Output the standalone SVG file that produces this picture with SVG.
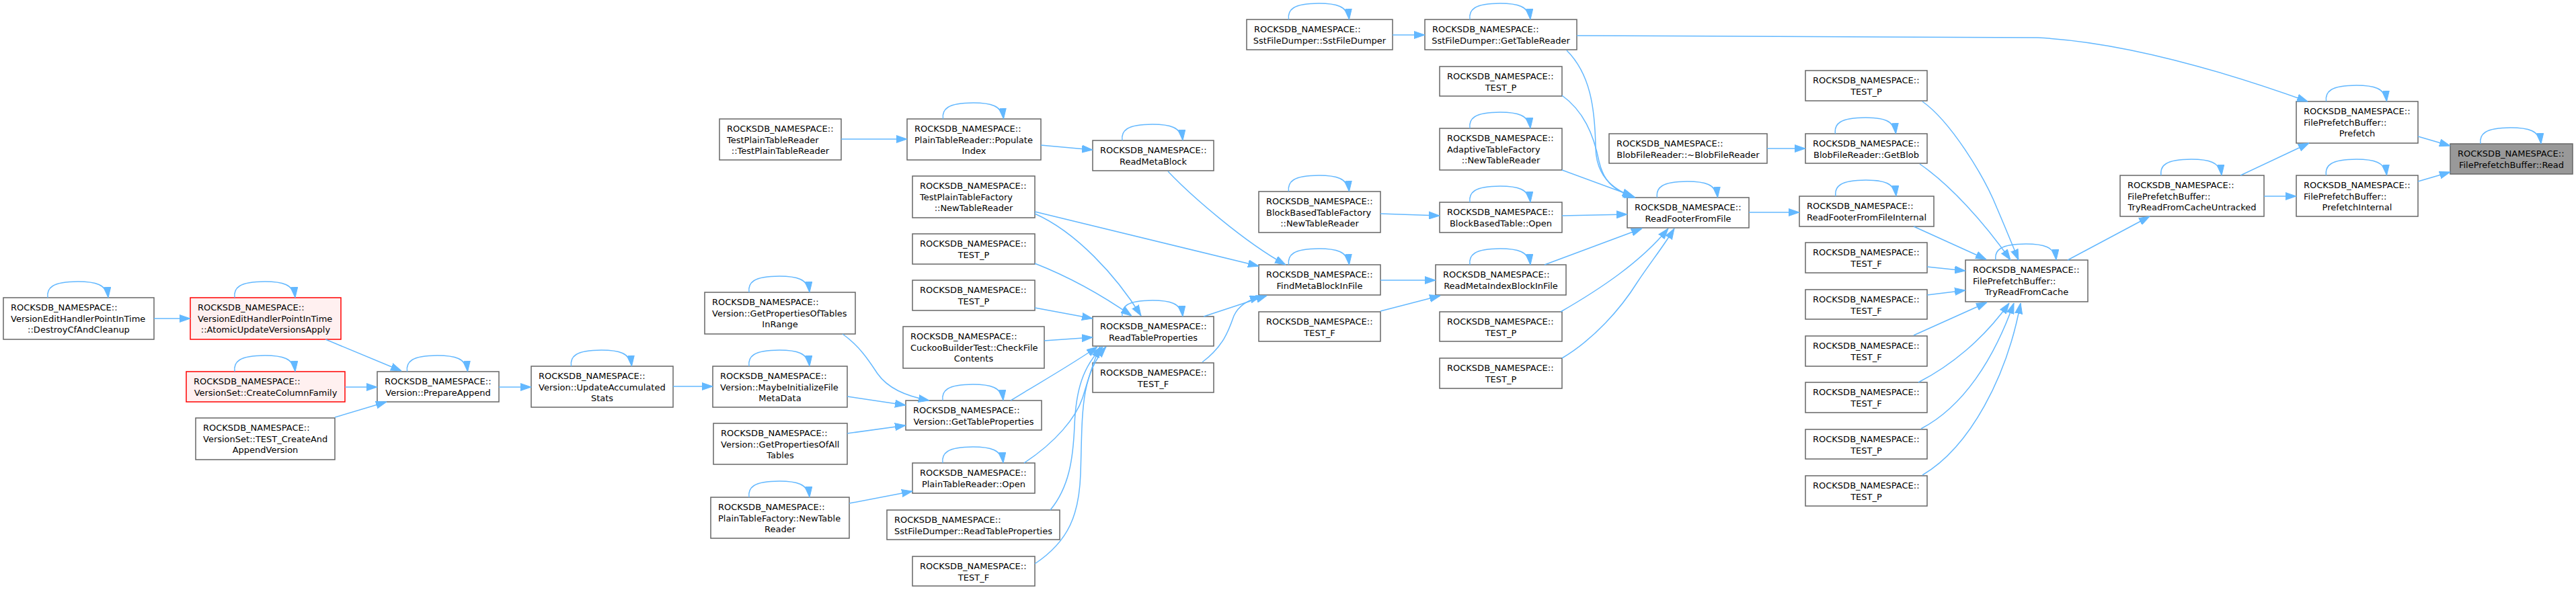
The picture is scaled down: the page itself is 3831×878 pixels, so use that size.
<svg xmlns="http://www.w3.org/2000/svg" width="3831" height="878" viewBox="0 0 3831 878">
<style>
.n rect{fill:#fff;stroke:#666;stroke-width:1.5}
.r rect{fill:#fff0f0;stroke:#f00}
.h rect{fill:#999}
text{font-family:'DejaVu Sans','Liberation Sans',sans-serif;font-size:13px;fill:#000}
text.c{text-anchor:middle}
#edges path{fill:none;stroke:#63b8ff;stroke-width:1.5;marker-end:url(#a)}
</style>
<defs>
<marker id="a" markerUnits="userSpaceOnUse" markerWidth="16" markerHeight="12" refX="16" refY="6" orient="auto" viewBox="0 0 16 12"><path d="M0,0.5 L16,6 L0,11.5 Z" fill="#63b8ff" stroke="#63b8ff" stroke-width="1"/></marker>
</defs>
<rect width="3831" height="878" fill="#fff"/>
<g id="nodes">
<g id="n_destroy" class="n"><rect x="5" y="443" width="224" height="62"/><text x="16" y="462">ROCKSDB_NAMESPACE::</text><text x="16" y="478.7">VersionEditHandlerPointInTime</text><text class="c" x="117" y="495.4">::DestroyCfAndCleanup</text></g>
<g id="n_atomic" class="n r"><rect x="283" y="443" width="224" height="62"/><text x="294" y="462">ROCKSDB_NAMESPACE::</text><text x="294" y="478.7">VersionEditHandlerPointInTime</text><text class="c" x="395" y="495.4">::AtomicUpdateVersionsApply</text></g>
<g id="n_createcf" class="n r"><rect x="277" y="553" width="236" height="45"/><text x="288" y="572">ROCKSDB_NAMESPACE::</text><text class="c" x="395" y="588.7">VersionSet::CreateColumnFamily</text></g>
<g id="n_testcreate" class="n"><rect x="291" y="622" width="207" height="62"/><text x="302" y="641">ROCKSDB_NAMESPACE::</text><text x="302" y="657.7">VersionSet::TEST_CreateAnd</text><text class="c" x="394.5" y="674.4">AppendVersion</text></g>
<g id="n_prepare" class="n"><rect x="561" y="553" width="181" height="45"/><text x="572" y="572">ROCKSDB_NAMESPACE::</text><text class="c" x="651.5" y="588.7">Version::PrepareAppend</text></g>
<g id="n_updacc" class="n"><rect x="790" y="545" width="211" height="61"/><text x="801" y="564">ROCKSDB_NAMESPACE::</text><text x="801" y="580.7">Version::UpdateAccumulated</text><text class="c" x="895.5" y="597.4">Stats</text></g>
<g id="n_gptir" class="n"><rect x="1048" y="435" width="224" height="62"/><text x="1059" y="454">ROCKSDB_NAMESPACE::</text><text x="1059" y="470.7">Version::GetPropertiesOfTables</text><text class="c" x="1160" y="487.4">InRange</text></g>
<g id="n_maybe" class="n"><rect x="1060" y="545" width="200" height="61"/><text x="1071" y="564">ROCKSDB_NAMESPACE::</text><text x="1071" y="580.7">Version::MaybeInitializeFile</text><text class="c" x="1160" y="597.4">MetaData</text></g>
<g id="n_gpoat" class="n"><rect x="1061" y="630" width="199" height="61"/><text x="1072" y="649">ROCKSDB_NAMESPACE::</text><text x="1072" y="665.7">Version::GetPropertiesOfAll</text><text class="c" x="1160.5" y="682.4">Tables</text></g>
<g id="n_ptfntr" class="n"><rect x="1057" y="740" width="206" height="61"/><text x="1068" y="759">ROCKSDB_NAMESPACE::</text><text x="1068" y="775.7">PlainTableFactory::NewTable</text><text class="c" x="1160" y="792.4">Reader</text></g>
<g id="n_tptr" class="n"><rect x="1070" y="177" width="181" height="61"/><text x="1081" y="196">ROCKSDB_NAMESPACE::</text><text x="1081" y="212.7">TestPlainTableReader</text><text class="c" x="1160.5" y="229.4">::TestPlainTableReader</text></g>
<g id="n_popidx" class="n"><rect x="1349" y="177" width="199" height="61"/><text x="1360" y="196">ROCKSDB_NAMESPACE::</text><text x="1360" y="212.7">PlainTableReader::Populate</text><text class="c" x="1448.5" y="229.4">Index</text></g>
<g id="n_tptf" class="n"><rect x="1357" y="262" width="182" height="62"/><text x="1368" y="281">ROCKSDB_NAMESPACE::</text><text x="1368" y="297.7">TestPlainTableFactory</text><text class="c" x="1448" y="314.4">::NewTableReader</text></g>
<g id="n_testp1" class="n"><rect x="1357" y="348" width="182" height="45"/><text x="1368" y="367">ROCKSDB_NAMESPACE::</text><text class="c" x="1448" y="383.7">TEST_P</text></g>
<g id="n_testp2" class="n"><rect x="1357" y="417" width="182" height="45"/><text x="1368" y="436">ROCKSDB_NAMESPACE::</text><text class="c" x="1448" y="452.7">TEST_P</text></g>
<g id="n_cuckoo" class="n"><rect x="1343" y="486" width="210" height="62"/><text x="1354" y="505">ROCKSDB_NAMESPACE::</text><text x="1354" y="521.7">CuckooBuilderTest::CheckFile</text><text class="c" x="1448" y="538.4">Contents</text></g>
<g id="n_vgtp" class="n"><rect x="1347" y="596" width="202" height="44"/><text x="1358" y="615">ROCKSDB_NAMESPACE::</text><text class="c" x="1448" y="631.7">Version::GetTableProperties</text></g>
<g id="n_ptropen" class="n"><rect x="1357" y="689" width="182" height="45"/><text x="1368" y="708">ROCKSDB_NAMESPACE::</text><text class="c" x="1448" y="724.7">PlainTableReader::Open</text></g>
<g id="n_sfdrtp" class="n"><rect x="1319" y="759" width="257" height="44"/><text x="1330" y="778">ROCKSDB_NAMESPACE::</text><text class="c" x="1447.5" y="794.7">SstFileDumper::ReadTableProperties</text></g>
<g id="n_testf1" class="n"><rect x="1357" y="828" width="182" height="44"/><text x="1368" y="847">ROCKSDB_NAMESPACE::</text><text class="c" x="1448" y="863.7">TEST_F</text></g>
<g id="n_rmb" class="n"><rect x="1625" y="209" width="180" height="45"/><text x="1636" y="228">ROCKSDB_NAMESPACE::</text><text class="c" x="1715" y="244.7">ReadMetaBlock</text></g>
<g id="n_rtp" class="n"><rect x="1625" y="471" width="180" height="44"/><text x="1636" y="490">ROCKSDB_NAMESPACE::</text><text class="c" x="1715" y="506.7">ReadTableProperties</text></g>
<g id="n_testf2" class="n"><rect x="1625" y="540" width="180" height="44"/><text x="1636" y="559">ROCKSDB_NAMESPACE::</text><text class="c" x="1715" y="575.7">TEST_F</text></g>
<g id="n_sfdsfd" class="n"><rect x="1854" y="29" width="217" height="45"/><text x="1865" y="48">ROCKSDB_NAMESPACE::</text><text class="c" x="1962.5" y="64.7">SstFileDumper::SstFileDumper</text></g>
<g id="n_bbtf" class="n"><rect x="1872" y="285" width="181" height="61"/><text x="1883" y="304">ROCKSDB_NAMESPACE::</text><text x="1883" y="320.7">BlockBasedTableFactory</text><text class="c" x="1962.5" y="337.4">::NewTableReader</text></g>
<g id="n_fmbif" class="n"><rect x="1872" y="394" width="181" height="45"/><text x="1883" y="413">ROCKSDB_NAMESPACE::</text><text class="c" x="1962.5" y="429.7">FindMetaBlockInFile</text></g>
<g id="n_testf3" class="n"><rect x="1872" y="464" width="181" height="44"/><text x="1883" y="483">ROCKSDB_NAMESPACE::</text><text class="c" x="1962.5" y="499.7">TEST_F</text></g>
<g id="n_gtr" class="n"><rect x="2119" y="29" width="226" height="45"/><text x="2130" y="48">ROCKSDB_NAMESPACE::</text><text class="c" x="2232" y="64.7">SstFileDumper::GetTableReader</text></g>
<g id="n_testp3" class="n"><rect x="2141" y="99" width="182" height="44"/><text x="2152" y="118">ROCKSDB_NAMESPACE::</text><text class="c" x="2232" y="134.7">TEST_P</text></g>
<g id="n_atf" class="n"><rect x="2141" y="191" width="182" height="62"/><text x="2152" y="210">ROCKSDB_NAMESPACE::</text><text x="2152" y="226.7">AdaptiveTableFactory</text><text class="c" x="2232" y="243.4">::NewTableReader</text></g>
<g id="n_bbto" class="n"><rect x="2141" y="301" width="182" height="45"/><text x="2152" y="320">ROCKSDB_NAMESPACE::</text><text class="c" x="2232" y="336.7">BlockBasedTable::Open</text></g>
<g id="n_rmibif" class="n"><rect x="2135" y="394" width="194" height="45"/><text x="2146" y="413">ROCKSDB_NAMESPACE::</text><text class="c" x="2232" y="429.7">ReadMetaIndexBlockInFile</text></g>
<g id="n_testp4" class="n"><rect x="2141" y="464" width="182" height="44"/><text x="2152" y="483">ROCKSDB_NAMESPACE::</text><text class="c" x="2232" y="499.7">TEST_P</text></g>
<g id="n_testp5" class="n"><rect x="2141" y="533" width="182" height="45"/><text x="2152" y="552">ROCKSDB_NAMESPACE::</text><text class="c" x="2232" y="568.7">TEST_P</text></g>
<g id="n_rfff" class="n"><rect x="2420" y="294" width="181" height="45"/><text x="2431" y="313">ROCKSDB_NAMESPACE::</text><text class="c" x="2510.5" y="329.7">ReadFooterFromFile</text></g>
<g id="n_bfrd" class="n"><rect x="2393" y="199" width="235" height="44"/><text x="2404" y="218">ROCKSDB_NAMESPACE::</text><text class="c" x="2510.5" y="234.7">BlobFileReader::~BlobFileReader</text></g>
<g id="n_testp6" class="n"><rect x="2685" y="105" width="181" height="45"/><text x="2696" y="124">ROCKSDB_NAMESPACE::</text><text class="c" x="2775.5" y="140.7">TEST_P</text></g>
<g id="n_getblob" class="n"><rect x="2685" y="199" width="181" height="44"/><text x="2696" y="218">ROCKSDB_NAMESPACE::</text><text class="c" x="2775.5" y="234.7">BlobFileReader::GetBlob</text></g>
<g id="n_rfffi" class="n"><rect x="2676" y="292" width="200" height="45"/><text x="2687" y="311">ROCKSDB_NAMESPACE::</text><text class="c" x="2776" y="327.7">ReadFooterFromFileInternal</text></g>
<g id="n_testf4" class="n"><rect x="2685" y="361" width="181" height="45"/><text x="2696" y="380">ROCKSDB_NAMESPACE::</text><text class="c" x="2775.5" y="396.7">TEST_F</text></g>
<g id="n_testf5" class="n"><rect x="2685" y="431" width="181" height="44"/><text x="2696" y="450">ROCKSDB_NAMESPACE::</text><text class="c" x="2775.5" y="466.7">TEST_F</text></g>
<g id="n_testf6" class="n"><rect x="2685" y="500" width="181" height="45"/><text x="2696" y="519">ROCKSDB_NAMESPACE::</text><text class="c" x="2775.5" y="535.7">TEST_F</text></g>
<g id="n_testf7" class="n"><rect x="2685" y="569" width="181" height="45"/><text x="2696" y="588">ROCKSDB_NAMESPACE::</text><text class="c" x="2775.5" y="604.7">TEST_F</text></g>
<g id="n_testp7" class="n"><rect x="2685" y="639" width="181" height="44"/><text x="2696" y="658">ROCKSDB_NAMESPACE::</text><text class="c" x="2775.5" y="674.7">TEST_P</text></g>
<g id="n_testp8" class="n"><rect x="2685" y="708" width="181" height="45"/><text x="2696" y="727">ROCKSDB_NAMESPACE::</text><text class="c" x="2775.5" y="743.7">TEST_P</text></g>
<g id="n_trfc" class="n"><rect x="2923" y="387" width="182" height="62"/><text x="2934" y="406">ROCKSDB_NAMESPACE::</text><text x="2934" y="422.7">FilePrefetchBuffer::</text><text class="c" x="3014" y="439.4">TryReadFromCache</text></g>
<g id="n_trfcu" class="n"><rect x="3153" y="261" width="214" height="61"/><text x="3164" y="280">ROCKSDB_NAMESPACE::</text><text x="3164" y="296.7">FilePrefetchBuffer::</text><text class="c" x="3260" y="313.4">TryReadFromCacheUntracked</text></g>
<g id="n_prefetch" class="n"><rect x="3415" y="151" width="181" height="62"/><text x="3426" y="170">ROCKSDB_NAMESPACE::</text><text x="3426" y="186.7">FilePrefetchBuffer::</text><text class="c" x="3505.5" y="203.4">Prefetch</text></g>
<g id="n_prefint" class="n"><rect x="3415" y="261" width="181" height="61"/><text x="3426" y="280">ROCKSDB_NAMESPACE::</text><text x="3426" y="296.7">FilePrefetchBuffer::</text><text class="c" x="3505.5" y="313.4">PrefetchInternal</text></g>
<g id="n_read" class="n h"><rect x="3644" y="214" width="182" height="45"/><text x="3655" y="233">ROCKSDB_NAMESPACE::</text><text class="c" x="3735" y="249.7">FilePrefetchBuffer::Read</text></g>
</g>
<g id="edges">
<path d="M229,474 L283,474"/>
<path d="M484,505 L597,552"/>
<path d="M513,576 L561,576"/>
<path d="M498,621 L575,598"/>
<path d="M742,576 L790,576"/>
<path d="M1001,575 L1060,575"/>
<path d="M1253,497 C1280,516 1295,541 1305,556 C1320,577 1345,589 1382,596"/>
<path d="M1260,590 L1347,603"/>
<path d="M1260,645 L1347,633"/>
<path d="M1263,749 L1357,731"/>
<path d="M1251,207 L1349,207"/>
<path d="M1548,216 L1625,223"/>
<path d="M1737,255 C1770,290 1850,360 1912,394"/>
<path d="M1539,315 L1872,396"/>
<path d="M1539,318 C1600,345 1660,410 1697,470"/>
<path d="M1539,392 C1590,412 1640,440 1683,470"/>
<path d="M1539,458 L1625,474"/>
<path d="M1553,507 L1625,502"/>
<path d="M1503,596 C1545,570 1590,545 1632,516"/>
<path d="M1523,689 C1570,658 1600,622 1610,592 C1620,560 1625,540 1636,516"/>
<path d="M1562,759 C1590,725 1596,683 1598,633 C1600,582 1610,545 1640,516"/>
<path d="M1539,839 C1590,805 1605,765 1607,705 C1610,622 1605,560 1645,516"/>
<path d="M1790,471 L1884,440"/>
<path d="M1788,539 C1820,515 1828,490 1835,470 C1842,455 1855,447 1875,441"/>
<path d="M2053,417 L2135,417"/>
<path d="M2053,463 L2142,440"/>
<path d="M2071,52 L2119,52"/>
<path d="M2330,75 C2365,110 2372,160 2373,220 C2374,260 2395,280 2430,294"/>
<path d="M2345,53 L3030,56 C3150,62 3290,100 3432,151"/>
<path d="M2323,142 C2355,165 2370,200 2378,240 C2386,275 2405,285 2432,294"/>
<path d="M2323,253 L2429,292"/>
<path d="M2053,318 L2141,321"/>
<path d="M2323,321 L2420,319"/>
<path d="M2297,394 L2442,340"/>
<path d="M2321,464 C2380,430 2440,390 2481,340"/>
<path d="M2323,533 C2370,505 2410,460 2435,420 C2455,390 2475,365 2490,340"/>
<path d="M2628,221 L2685,221"/>
<path d="M2601,316 L2676,316"/>
<path d="M2859,151 C2900,180 2950,260 2970,310 C2985,345 2995,370 3002,387"/>
<path d="M2855,244 C2900,275 2950,330 2990,387"/>
<path d="M2846,337 L2954,386"/>
<path d="M2866,397 L2923,403"/>
<path d="M2866,439 L2923,432"/>
<path d="M2846,499 L2955,450"/>
<path d="M2853,569 C2900,545 2950,505 2988,451"/>
<path d="M2857,638 C2920,605 2965,535 2995,451"/>
<path d="M2859,707 C2930,665 2985,560 3005,451"/>
<path d="M3075,387 L3197,322"/>
<path d="M3332,261 L3434,213"/>
<path d="M3367,292 L3415,292"/>
<path d="M3596,203 L3644,217"/>
<path d="M3596,270 L3644,256"/>
<path d="M71,443 C69,429 77,419 116,419 C141,419 159,423 161,443"/>
<path d="M349,443 C347,429 355,419 394,419 C419,419 437,423 439,443"/>
<path d="M349,553 C347,539 355,529 394,529 C419,529 437,533 439,553"/>
<path d="M605.5,553 C603.5,539 611.5,529 650.5,529 C675.5,529 693.5,533 695.5,553"/>
<path d="M849.5,545 C847.5,531 855.5,521 894.5,521 C919.5,521 937.5,525 939.5,545"/>
<path d="M1114,435 C1112,421 1120,411 1159,411 C1184,411 1202,415 1204,435"/>
<path d="M1114,545 C1112,531 1120,521 1159,521 C1184,521 1202,525 1204,545"/>
<path d="M1114,740 C1112,726 1120,716 1159,716 C1184,716 1202,720 1204,740"/>
<path d="M1402,596 C1400,582 1408,572 1447,572 C1472,572 1490,576 1492,596"/>
<path d="M1402,689 C1400,675 1408,665 1447,665 C1472,665 1490,669 1492,689"/>
<path d="M1402.5,177 C1400.5,163 1408.5,153 1447.5,153 C1472.5,153 1490.5,157 1492.5,177"/>
<path d="M1669,209 C1667,195 1675,185 1714,185 C1739,185 1757,189 1759,209"/>
<path d="M1669,471 C1667,457 1675,447 1714,447 C1739,447 1757,451 1759,471"/>
<path d="M1916.5,29 C1914.5,15 1922.5,5 1961.5,5 C1986.5,5 2004.5,9 2006.5,29"/>
<path d="M2186,29 C2184,15 2192,5 2231,5 C2256,5 2274,9 2276,29"/>
<path d="M2186,191 C2184,177 2192,167 2231,167 C2256,167 2274,171 2276,191"/>
<path d="M1916.5,285 C1914.5,271 1922.5,261 1961.5,261 C1986.5,261 2004.5,265 2006.5,285"/>
<path d="M2186,301 C2184,287 2192,277 2231,277 C2256,277 2274,281 2276,301"/>
<path d="M1916.5,394 C1914.5,380 1922.5,370 1961.5,370 C1986.5,370 2004.5,374 2006.5,394"/>
<path d="M2186,394 C2184,380 2192,370 2231,370 C2256,370 2274,374 2276,394"/>
<path d="M2464.5,294 C2462.5,280 2470.5,270 2509.5,270 C2534.5,270 2552.5,274 2554.5,294"/>
<path d="M2729.5,199 C2727.5,185 2735.5,175 2774.5,175 C2799.5,175 2817.5,179 2819.5,199"/>
<path d="M2730,292 C2728,278 2736,268 2775,268 C2800,268 2818,272 2820,292"/>
<path d="M2968,387 C2966,373 2974,363 3013,363 C3038,363 3056,367 3058,387"/>
<path d="M3214,261 C3212,247 3220,237 3259,237 C3284,237 3302,241 3304,261"/>
<path d="M3459.5,151 C3457.5,137 3465.5,127 3504.5,127 C3529.5,127 3547.5,131 3549.5,151"/>
<path d="M3459.5,261 C3457.5,247 3465.5,237 3504.5,237 C3529.5,237 3547.5,241 3549.5,261"/>
<path d="M3689,214 C3687,200 3695,190 3734,190 C3759,190 3777,194 3779,214"/>
</g>
</svg>
